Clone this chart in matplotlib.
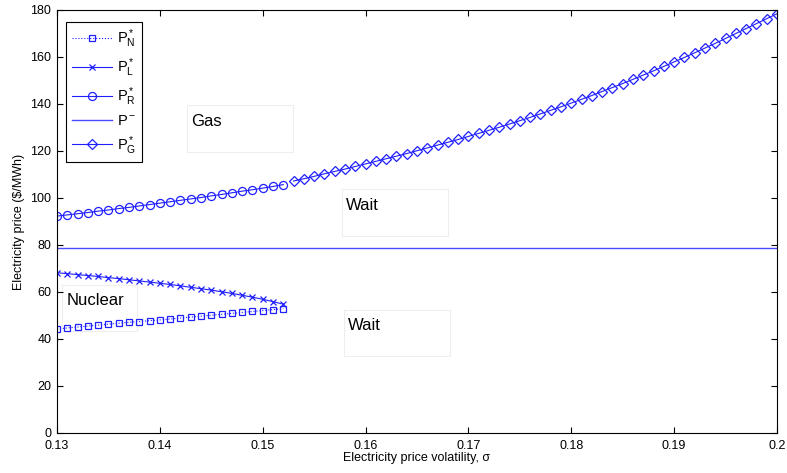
import numpy as np
import matplotlib
matplotlib.use('Agg')
import matplotlib.pyplot as plt

# volatility grid, step 0.001
sigma_low = np.round(np.arange(0.130, 0.1525, 0.001), 3)    # 0.130 .. 0.152
sigma_high = np.round(np.arange(0.153, 0.2005, 0.001), 3)   # 0.153 .. 0.200
sigma_all = np.round(np.arange(0.130, 0.2005, 0.001), 3)

p_n = [44.2, 44.7, 45.1, 45.5, 45.9, 46.3, 46.7, 47.1, 47.4, 47.8, 48.1, 48.5,
       48.9, 49.3, 49.7, 50.1, 50.5, 50.9, 51.3, 51.7, 52.1, 52.5, 52.9]
p_l = [68.2, 67.8, 67.4, 67.0, 66.6, 66.1, 65.7, 65.2, 64.7, 64.2, 63.7, 63.2,
       62.6, 62.0, 61.4, 60.8, 60.1, 59.4, 58.6, 57.8, 56.9, 55.9, 54.8]
p_r = [92.3, 92.8, 93.3, 93.8, 94.4, 94.9, 95.5, 96.0, 96.6, 97.2, 97.8, 98.4,
       99.0, 99.6, 100.2, 100.9, 101.5, 102.2, 102.9, 103.5, 104.2, 104.9, 105.7]
p_minus = 78.6
p_g = [107.2, 108.2, 109.2, 110.3, 111.3, 112.3, 113.4, 114.5, 115.6, 116.7,
       117.8, 118.9, 120.1, 121.3, 122.5, 123.7, 124.9, 126.2, 127.5, 128.8,
       130.1, 131.5, 132.9, 134.3, 135.8, 137.3, 138.8, 140.4, 142.0, 143.6,
       145.3, 147.0, 148.7, 150.5, 152.3, 154.1, 156.0, 157.9, 159.8, 161.8,
       163.8, 165.8, 167.9, 170.0, 172.1, 174.2, 176.3, 178.4]

# region labels: (text, box left x, box centre y, box width, box height)
regions = [
    ('Gas', 0.1426, 129.6, 0.0103, 20),
    ('Wait', 0.1577, 93.8, 0.0103, 20),
    ('Nuclear', 0.1305, 53.2, 0.0073, 19.5),
    ('Wait', 0.1579, 42.6, 0.0103, 19.5),
]

plt.rcParams['font.family'] = ['Liberation Sans', 'DejaVu Sans']
plt.rcParams['mathtext.fontset'] = 'custom'
plt.rcParams['mathtext.rm'] = 'Liberation Sans'
plt.rcParams['mathtext.it'] = 'Liberation Sans'

blue = '#2020ff'
fig = plt.figure(figsize=(7.87, 4.73), dpi=100)
ax = fig.add_axes([0.0724, 0.0846, 0.9149, 0.8943])

ax.plot(sigma_low, p_n, ':', color=blue, marker='s', ms=5, mfc='none',
        mew=0.9, lw=0.8, label=r'$\mathregular{P^*_N}$')
ax.plot(sigma_low, p_l, '-', color=blue, marker='x', ms=4.5, mew=0.9,
        lw=0.8, label=r'$\mathregular{P^*_L}$')
ax.plot(sigma_low, p_r, '-', color=blue, marker='o', ms=5.8, mfc='none',
        mew=0.9, lw=0.8, label=r'$\mathregular{P^*_R}$')
ax.plot(sigma_all, [p_minus] * len(sigma_all), '-', color='#4a4aff', lw=1.0,
        label=r'$\mathregular{P^-}$')
ax.plot(sigma_high, p_g, '-', color=blue, marker='D', ms=5.5, mfc='none',
        mew=0.9, lw=0.8, label=r'$\mathregular{P^*_G}$')

for txt, x, y, w, h in regions:
    ax.add_patch(plt.Rectangle((x, y - h / 2), w, h, fill=False,
                               ec='#eeeeee', lw=0.8, zorder=1))
    ax.text(x + 0.0004, y + 3.0, txt, fontsize=12, va='center',
            ha='left', color='black')

ax.set_xlim(0.13, 0.2)
ax.set_ylim(0, 180)
ax.set_xticks(np.round(np.arange(0.13, 0.2001, 0.01), 2))
ax.set_xticklabels(['0.13', '0.14', '0.15', '0.16', '0.17', '0.18',
                    '0.19', '0.2'])
ax.set_yticks(np.arange(0, 181, 20))
ax.tick_params(direction='in', top=True, right=True, labelsize=9,
               length=4, width=0.8)
ax.tick_params(axis='x', pad=5)
ax.tick_params(axis='y', pad=4)
for s in ax.spines.values():
    s.set_linewidth(0.8)
ax.set_xlabel('Electricity price volatility, σ', fontsize=9, labelpad=0)
ax.set_ylabel('Electricity price ($/MWh)', fontsize=9, labelpad=4)

leg = ax.legend(loc='upper left', fontsize=10.5, handlelength=2.75,
                fancybox=False, framealpha=1, edgecolor='black',
                borderpad=0.4, labelspacing=0.42, handletextpad=0.35,
                borderaxespad=0, bbox_to_anchor=(0.0125, 0.972))
leg.get_frame().set_linewidth(0.8)

fig.savefig('out.png', dpi=100)
